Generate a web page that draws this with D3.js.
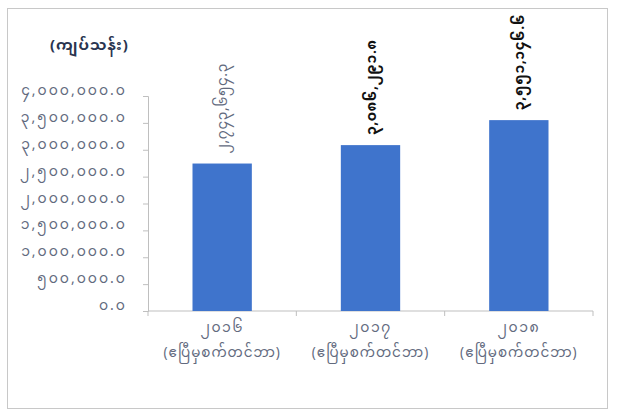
<!DOCTYPE html>
<html>
<head>
<meta charset="utf-8">
<script src="https://cdn.jsdelivr.net/npm/d3@7"></script>
<style>
  body { margin: 0; background: #fff; }
  svg text { font-family: "Noto Sans Myanmar", "Myanmar Text", Padauk, "DejaVu Sans", sans-serif; }
</style>
</head>
<body>
<svg id="drawing_region"></svg>
<script>
// chart data
const years = ["၂၀၁၆", "၂၀၁၇", "၂၀၁၈"];
const period = "(ဧပြီမှစက်တင်ဘာ)";
const values = [2743654.3, 3086291.8, 3551146.6];
const yTicks = [0, 500000, 1000000, 1500000, 2000000, 2500000, 3000000, 3500000, 4000000];
const unitLabel = "(ကျပ်သန်း)";

const mmDigits = "၀၁၂၃၄၅၆၇၈၉";
const toMyanmar = s => s.replace(/[0-9]/g, c => mmDigits[+c]);
const fmt = v => toMyanmar(d3.format(",.1f")(v));

const config = {
    width: 619,
    height: 416,
    margin: {top: 96, right: 26, bottom: 105, left: 148}
};

const svg = d3.select('#drawing_region')
    .attr('width', config.width)
    .attr('height', config.height);

// outer frame
svg.append('rect')
    .attr('x', 7.5).attr('y', 8.5)
    .attr('width', 600).attr('height', 400)
    .attr('fill', 'none')
    .attr('stroke', '#c8c8c8');

const inner_w = config.width - config.margin.left - config.margin.right;
const inner_h = config.height - config.margin.top - config.margin.bottom;

const chart = svg.append('g')
    .attr('transform', `translate(${config.margin.left}, ${config.margin.top})`);

const xscale = d3.scaleBand()
    .domain(years)
    .range([0, inner_w])
    .paddingInner(0.6)
    .paddingOuter(0.3);

const yscale = d3.scaleLinear()
    .domain([0, 4000000])
    .range([inner_h, 0]);

// y axis
const yaxis = d3.axisLeft(yscale)
    .tickValues(yTicks)
    .tickSize(5)
    .tickPadding(16)
    .tickFormat(fmt);

chart.append('g')
    .call(yaxis)
    .call(g => g.select('.domain').attr('stroke', '#bfbfbf'))
    .call(g => g.selectAll('.tick line').attr('stroke', '#bfbfbf'))
    .call(g => g.selectAll('.tick text')
        .attr('fill', '#626a7e')
        .attr('font-size', 14)
        .attr('letter-spacing', 2)
        .attr('dy', '-0.1em'));

// x axis line and ticks at category boundaries
chart.append('line')
    .attr('x1', 0).attr('x2', inner_w)
    .attr('y1', inner_h).attr('y2', inner_h)
    .attr('stroke', '#bfbfbf');

chart.selectAll('line.xtick')
    .data(d3.range(years.length + 1))
    .enter()
    .append('line')
    .attr('class', 'xtick')
    .attr('x1', i => i * inner_w / years.length)
    .attr('x2', i => i * inner_w / years.length)
    .attr('y1', inner_h).attr('y2', inner_h + 5)
    .attr('stroke', '#bfbfbf');

// bars
chart.selectAll('rect.bar')
    .data(values)
    .enter()
    .append('rect')
    .attr('class', 'bar')
    .attr('x', (d, i) => xscale(years[i]))
    .attr('y', d => yscale(d))
    .attr('width', xscale.bandwidth())
    .attr('height', d => inner_h - yscale(d))
    .attr('fill', '#3f74cc');

// value labels, rotated
chart.selectAll('text.value')
    .data(values)
    .enter()
    .append('text')
    .attr('class', 'value')
    .attr('transform', (d, i) =>
        `translate(${xscale(years[i]) + xscale.bandwidth() / 2 + 5}, ${yscale(d) - 10}) rotate(-90)`)
    .attr('text-anchor', 'start')
    .attr('font-size', 14)
    .attr('letter-spacing', 0.6)
    .attr('fill', (d, i) => i === 0 ? '#626a7e' : '#111')
    .attr('font-weight', (d, i) => i === 0 ? 'normal' : 'bold')
    .text(d => fmt(d));

// category labels
const cat = chart.selectAll('g.cat')
    .data(years)
    .enter()
    .append('g')
    .attr('class', 'cat')
    .attr('transform', d => `translate(${xscale(d) + xscale.bandwidth() / 2}, ${inner_h})`);

cat.append('text')
    .attr('y', 21)
    .attr('text-anchor', 'middle')
    .attr('font-size', 14)
    .attr('letter-spacing', 1.5)
    .attr('fill', '#626a7e')
    .text(d => d);

cat.append('text')
    .attr('y', 46)
    .attr('text-anchor', 'middle')
    .attr('font-size', 13.5)
    .attr('letter-spacing', 1)
    .attr('fill', '#626a7e')
    .text(period);

// unit label
svg.append('text')
    .attr('x', 50).attr('y', 50)
    .attr('font-size', 15)
    .attr('font-weight', 'bold')
    .attr('letter-spacing', 1)
    .attr('fill', '#2a3550')
    .text(unitLabel);
</script>
</body>
</html>
